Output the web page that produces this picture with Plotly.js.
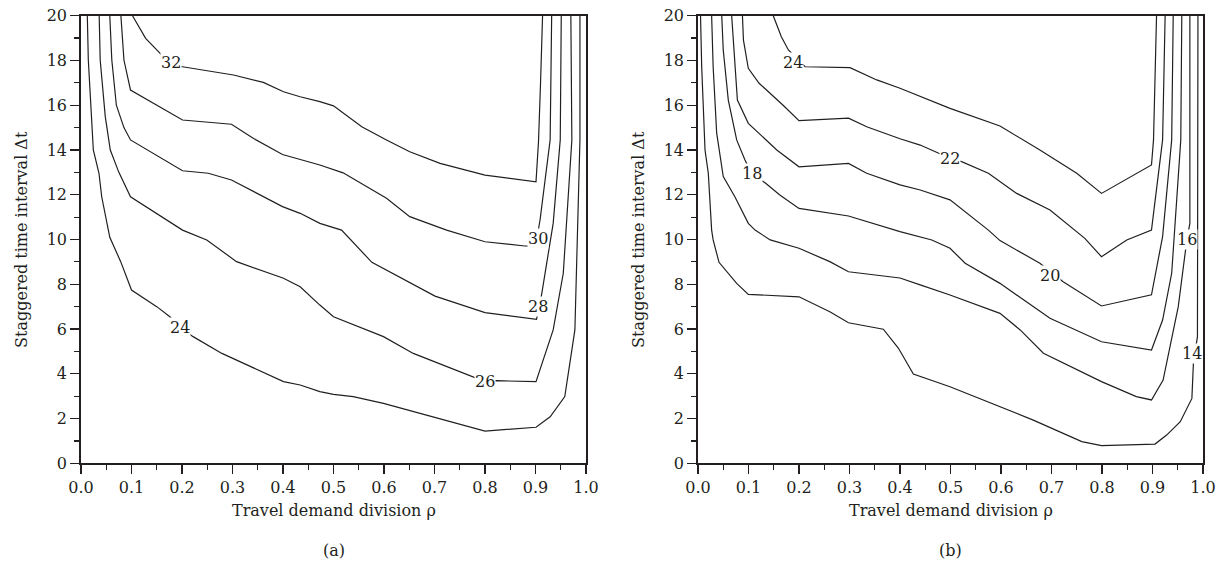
<!DOCTYPE html>
<html>
<head>
<meta charset="utf-8">
<script src="https://cdn.plot.ly/plotly-3.0.1.min.js"></script>
<style>html,body{margin:0;padding:0;background:#fff}#chart{width:1223px;height:576px}</style>
</head>
<body>
<div id="chart"></div>
<script>
// ---------- Panel (a) contour lines: rho (x) and delta t (y) ----------
const aLevels = [24, 26, 28, 30, 32];
const aRho24 = [0.0125,0.0145,0.0244,0.0356,0.041,0.057,0.0786,0.100,0.150,0.176,0.196,0.222,0.279,0.401,0.434,0.473,0.50,0.539,0.599,0.698,0.80,0.901,0.929,0.958,0.978,0.988,0.988];
const aDt24  = [20,18.02,14.0,12.96,11.91,10.1,9.01,7.74,7.0,6.55,6.08,5.66,4.91,3.65,3.5,3.2,3.08,2.98,2.68,2.08,1.44,1.61,2.08,2.98,5.96,14.45,20];
const aRho26 = [0.036,0.038,0.048,0.058,0.075,0.098,0.201,0.249,0.308,0.401,0.434,0.473,0.50,0.599,0.658,0.777,0.80,0.823,0.901,0.935,0.955,0.972,0.970];
const aDt26  = [20,18.02,15.5,14.0,13.0,11.91,10.42,9.98,9.01,8.27,7.89,7.07,6.55,5.66,4.91,3.87,3.65,3.69,3.65,5.96,8.49,14.45,20];
const aRho28 = [0.057,0.061,0.070,0.085,0.098,0.201,0.252,0.298,0.399,0.434,0.473,0.516,0.576,0.701,0.80,0.902,0.912,0.935,0.949,0.951];
const aDt28  = [20,18.02,16.0,15.0,14.45,13.07,12.96,12.66,11.47,11.17,10.72,10.42,8.98,7.47,6.73,6.43,7.53,10.72,14.45,20];
const aRho30 = [0.079,0.085,0.098,0.150,0.201,0.298,0.341,0.399,0.434,0.473,0.519,0.605,0.651,0.724,0.80,0.879,0.90,0.909,0.929,0.932];
const aDt30  = [20,18.02,16.68,16.01,15.34,15.15,14.52,13.8,13.58,13.33,12.98,11.84,11.02,10.42,9.9,9.71,9.7,10.87,14.45,20];
const aRho32 = [0.102,0.128,0.160,0.183,0.201,0.302,0.361,0.401,0.434,0.473,0.50,0.556,0.605,0.651,0.711,0.80,0.901,0.906,0.910,0.914];
const aDt32  = [20,18.99,18.24,17.72,17.72,17.35,17.02,16.6,16.38,16.16,15.97,15.04,14.45,13.92,13.4,12.88,12.58,14.4,17,20];
// label positions for panel (a)
const aLabelText = ['24','26','28','30','32'];
const aLabelRho  = [0.196,0.800,0.904,0.904,0.178];
const aLabelDt   = [6.08,3.65,7.0,10.05,17.92];

// ---------- Panel (b) contour lines ----------
const bLevels = [14, 16, 18, 20, 22, 24];
const bRho14 = [0.005,0.0073,0.0139,0.0204,0.027,0.030,0.0416,0.0766,0.0996,0.2,0.261,0.298,0.367,0.397,0.4264,0.499,0.664,0.76,0.799,0.905,0.928,0.955,0.978,0.981,0.989,0.989,0.990];
const bDt14  = [20,17.72,14.0,12.96,10.42,9.98,8.98,8.04,7.55,7.44,6.77,6.28,5.99,5.14,3.99,3.42,1.93,0.97,0.79,0.86,1.26,1.86,2.9,4.47,5.66,14.45,20];
const bRho16 = [0.027,0.030,0.037,0.050,0.073,0.0996,0.113,0.143,0.2,0.261,0.298,0.4,0.44,0.499,0.598,0.638,0.684,0.799,0.868,0.898,0.921,0.951,0.968,0.974,0.974,0.974];
const bDt16  = [20,17.72,14.75,12.81,11.91,10.72,10.42,9.98,9.61,9.01,8.56,8.28,7.97,7.52,6.7,5.96,4.92,3.65,2.98,2.83,3.72,7.0,9.98,10.72,14.45,20];
const bRho18 = [0.047,0.050,0.060,0.0766,0.093,0.106,0.134,0.162,0.2,0.298,0.4,0.463,0.499,0.529,0.598,0.697,0.799,0.898,0.92,0.938,0.956,0.958];
const bDt18  = [20,18.47,16.23,14.45,13.55,12.96,12.51,11.99,11.39,11.05,10.35,9.98,9.61,8.94,8.04,6.48,5.43,5.06,6.4,8.49,14.45,20];
const bRho20 = [0.0667,0.070,0.078,0.0996,0.156,0.2,0.298,0.334,0.4,0.44,0.499,0.575,0.598,0.677,0.723,0.799,0.898,0.920,0.938,0.941];
const bDt20  = [20,18.91,16.23,15.19,14.0,13.25,13.4,12.96,12.44,12.21,11.77,10.42,9.95,8.94,8.11,7.03,7.53,10.13,14.45,20];
const bRho22 = [0.088,0.090,0.0996,0.121,0.168,0.2,0.298,0.334,0.4,0.44,0.499,0.522,0.575,0.631,0.697,0.766,0.799,0.849,0.898,0.920,0.925];
const bDt22  = [20,18.91,17.65,16.98,16.01,15.31,15.42,15.04,14.5,14.22,13.63,13.48,12.96,12.06,11.32,10.05,9.23,9.98,10.42,14.45,20];
const bRho24 = [0.149,0.165,0.179,0.212,0.301,0.354,0.4,0.499,0.598,0.677,0.75,0.799,0.898,0.902,0.908];
const bDt24  = [20,19.06,18.47,17.72,17.68,17.13,16.76,15.86,15.07,14.0,12.96,12.06,13.33,14.45,20];
// label positions for panel (b)
const bLabelText = ['14','16','18','20','22','24'];
const bLabelRho  = [0.978,0.968,0.106,0.697,0.499,0.1875];
const bLabelDt   = [4.92,9.98,12.96,8.41,13.63,17.9];

// tick labels
const xTickVals = [0,0.1,0.2,0.3,0.4,0.5,0.6,0.7,0.8,0.9,1.0];
const xTickText = ['0.0','0.1','0.2','0.3','0.4','0.5','0.6','0.7','0.8','0.9','1.0'];
const yTickVals = [0,2,4,6,8,10,12,14,16,18,20];

// ---------- build ----------
const INK = '#231f20';
const FONT = 'DejaVu Serif, Liberation Serif, serif';
const W = 1223, H = 576;
const aSeries = [[aRho24,aDt24],[aRho26,aDt26],[aRho28,aDt28],[aRho30,aDt30],[aRho32,aDt32]];
const bSeries = [[bRho14,bDt14],[bRho16,bDt16],[bRho18,bDt18],[bRho20,bDt20],[bRho22,bDt22],[bRho24,bDt24]];

const traces = [];
aSeries.forEach((s, i) => traces.push({x: s[0], y: s[1], xaxis: 'x', yaxis: 'y', type: 'scatter', mode: 'lines',
  name: String(aLevels[i]), line: {color: INK, width: 1.2}, hoverinfo: 'skip'}));
bSeries.forEach((s, i) => traces.push({x: s[0], y: s[1], xaxis: 'x2', yaxis: 'y2', type: 'scatter', mode: 'lines',
  name: String(bLevels[i]), line: {color: INK, width: 1.2}, hoverinfo: 'skip'}));

function xAxis(domain, anchor) {
  return {domain: domain, anchor: anchor, range: [0, 1], tickvals: xTickVals, ticktext: xTickText,
    ticks: 'outside', ticklen: 9, tickwidth: 1.2, tickcolor: INK,
    minor: {dtick: 0.05, tick0: 0, ticks: 'outside', ticklen: 5, tickwidth: 1.2, tickcolor: INK, showgrid: false},
    showline: true, linecolor: INK, linewidth: 1.8, mirror: true, showgrid: false, zeroline: false,
    tickfont: {family: FONT, size: 16, color: INK}, fixedrange: true};
}
function yAxis(domain, anchor) {
  return {domain: domain, anchor: anchor, range: [0, 20], tickvals: yTickVals,
    ticks: 'outside', ticklen: 9, tickwidth: 1.2, tickcolor: INK,
    minor: {dtick: 1, tick0: 0, ticks: 'outside', ticklen: 5, tickwidth: 1.2, tickcolor: INK, showgrid: false},
    showline: true, linecolor: INK, linewidth: 1.8, mirror: true, showgrid: false, zeroline: false,
    tickfont: {family: FONT, size: 16, color: INK}, fixedrange: true};
}
const yDom = [(H - 463.3) / H, (H - 15.7) / H];
const axA = [81, 586], axB = [698, 1203];

const annotations = [];
aLabelText.forEach((t, i) => annotations.push({text: t, x: aLabelRho[i], y: aLabelDt[i], xref: 'x', yref: 'y',
  showarrow: false, bgcolor: '#ffffff', borderpad: 0, font: {family: FONT, size: 16, color: INK}}));
bLabelText.forEach((t, i) => annotations.push({text: t, x: bLabelRho[i], y: bLabelDt[i], xref: 'x2', yref: 'y2',
  showarrow: false, bgcolor: '#ffffff', borderpad: 0, font: {family: FONT, size: 16, color: INK}}));
const titleFont = {family: FONT, size: 16, color: INK};
[[axA, '(a)'], [axB, '(b)']].forEach(([ax, tag], k) => {
  const cx = (ax[0] + ax[1]) / 2 / W;
  annotations.push({text: 'Travel demand division ρ', xref: 'paper', yref: 'paper', x: cx, y: 1 - 510 / H,
    showarrow: false, font: titleFont, xanchor: 'center', yanchor: 'middle'});
  annotations.push({text: tag, xref: 'paper', yref: 'paper', x: cx, y: 1 - 550 / H,
    showarrow: false, font: titleFont, xanchor: 'center', yanchor: 'middle'});
  annotations.push({text: 'Staggered time interval Δt', xref: 'paper', yref: 'paper',
    x: (ax[0] - 60) / W, y: 1 - 240 / H, textangle: -90,
    showarrow: false, font: titleFont, xanchor: 'center', yanchor: 'middle'});
});

const layout = {
  width: W, height: H, margin: {l: 0, r: 0, t: 0, b: 0},
  paper_bgcolor: '#ffffff', plot_bgcolor: '#ffffff', showlegend: false,
  xaxis: xAxis([axA[0] / W, axA[1] / W], 'y'),
  yaxis: yAxis(yDom, 'x'),
  xaxis2: xAxis([axB[0] / W, axB[1] / W], 'y2'),
  yaxis2: yAxis(yDom, 'x2'),
  annotations: annotations
};
Plotly.newPlot('chart', traces, layout, {displayModeBar: false, staticPlot: true});
</script>
</body>
</html>
